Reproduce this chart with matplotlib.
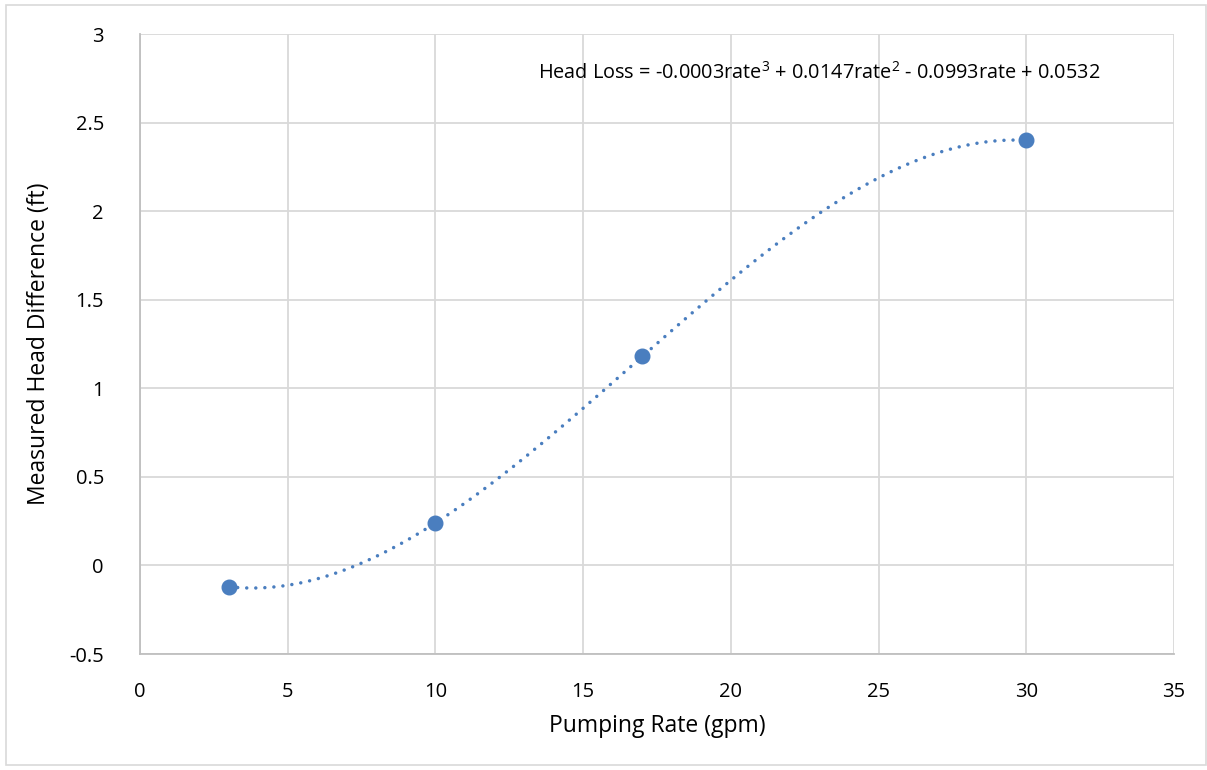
import numpy as np
import matplotlib.pyplot as plt
from matplotlib.patches import Rectangle

# data
rate = [3, 10, 17, 30]
head = [-0.12, 0.24, 1.18, 2.40]
xticks = [0, 5, 10, 15, 20, 25, 30, 35]
yticks = [-0.5, 0, 0.5, 1, 1.5, 2, 2.5, 3]

plt.rcParams['font.family'] = ['Open Sans', 'DejaVu Sans']
plt.rcParams['mathtext.fontset'] = 'custom'
plt.rcParams['mathtext.rm'] = 'Open Sans'
plt.rcParams['mathtext.it'] = 'Open Sans'

fig = plt.figure(figsize=(12.07, 7.70), dpi=100)
fig.patches.append(Rectangle((0.005, 0.006), 0.994, 0.988, transform=fig.transFigure,
                             fill=False, edgecolor='#D9D9D9', linewidth=1.2))
ax = fig.add_axes([0.116, 0.1506, 0.8567, 0.8052])

blue = '#4A7EBF'

# cubic trendline (like Excel's polynomial order 3)
coef = np.polyfit(rate, head, 3)
xs = np.linspace(min(rate), max(rate), 300)
ax.plot(xs, np.polyval(coef, xs), linestyle=(0, (0.01, 2.6)), color=blue, linewidth=2.5,
        dash_capstyle='round', zorder=2)
ax.plot(rate, head, 'o', color=blue, markersize=10.5, zorder=3)

ax.set_xlim(0, 35)
ax.set_ylim(-0.5, 3)
ax.set_xticks(xticks)
ax.set_yticks(yticks)
ax.set_xticklabels([str(t) for t in xticks])
ax.set_yticklabels([('%g' % t) for t in yticks])
ax.grid(True, color='#D9D9D9', linewidth=1.3)
ax.set_axisbelow(True)
for s in ['top', 'right']:
    ax.spines[s].set_visible(False)
for s in ['left', 'bottom']:
    ax.spines[s].set_color('#BFBFBF')
    ax.spines[s].set_linewidth(1.3)
ax.tick_params(length=0, labelsize=14.5, colors='#000000')
ax.tick_params(axis='x', pad=20)
ax.tick_params(axis='y', pad=26)

ax.set_xlabel('Pumping Rate (gpm)', fontsize=16.5, labelpad=9)
ax.set_ylabel('Measured Head Difference (ft)', fontsize=16.5, labelpad=13)

ax.text(0.929, 0.937,
        r'Head Loss = -0.0003rate$^{3}$ + 0.0147rate$^{2}$ - 0.0993rate + 0.0532',
        transform=ax.transAxes, ha='right', va='center', fontsize=14.3)

fig.savefig('out.png', dpi=100)
